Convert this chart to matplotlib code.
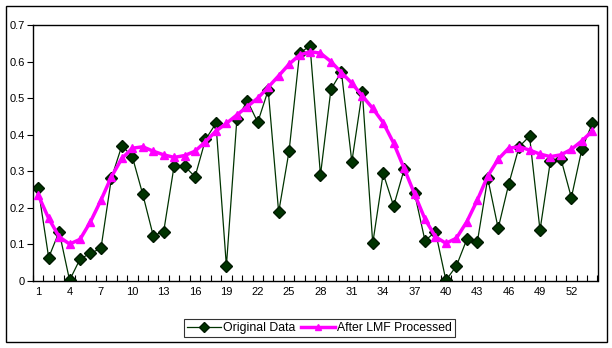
import matplotlib
matplotlib.use("Agg")
import matplotlib.pyplot as plt
from matplotlib.patches import Rectangle

x = list(range(1, 55))
original = [0.253, 0.064, 0.135, 0.002, 0.060, 0.076, 0.089, 0.281, 0.370, 0.340,
            0.237, 0.124, 0.135, 0.315, 0.314, 0.285, 0.387, 0.431, 0.041, 0.442,
            0.493, 0.434, 0.522, 0.188, 0.356, 0.623, 0.643, 0.290, 0.524, 0.572,
            0.326, 0.518, 0.103, 0.294, 0.205, 0.305, 0.240, 0.110, 0.135, 0.002,
            0.041, 0.114, 0.106, 0.281, 0.144, 0.264, 0.367, 0.396, 0.139, 0.329,
            0.334, 0.228, 0.360, 0.431]
lmf = [0.235, 0.171, 0.121, 0.101, 0.114, 0.162, 0.221, 0.285, 0.335, 0.363,
       0.367, 0.355, 0.345, 0.338, 0.343, 0.355, 0.381, 0.410, 0.431, 0.454,
       0.477, 0.500, 0.530, 0.561, 0.593, 0.618, 0.627, 0.623, 0.600, 0.570,
       0.541, 0.506, 0.472, 0.433, 0.377, 0.308, 0.238, 0.169, 0.121, 0.103,
       0.117, 0.162, 0.221, 0.287, 0.333, 0.363, 0.367, 0.358, 0.347, 0.340,
       0.345, 0.360, 0.383, 0.410]
xtick_labels = [str(v) for v in range(1, 55, 3)]
yticks = [0, 0.1, 0.2, 0.3, 0.4, 0.5, 0.6, 0.7]
ytick_labels = ["0", "0.1", "0.2", "0.3", "0.4", "0.5", "0.6", "0.7"]

plt.rcParams['font.family'] = ['Liberation Sans', 'DejaVu Sans']
fig = plt.figure(figsize=(6.12, 3.48), dpi=100)
fig.patches.append(Rectangle((6/612, 1-342/348), 601/612, 336/348, transform=fig.transFigure,
                             fill=False, edgecolor='black', linewidth=1.0))
ax = fig.add_axes([33/612, 1-281/348, 564.5/612, 256/348])

ax.plot(x, original, color='#003300', linewidth=0.9, marker='D', markersize=6.5,
        markerfacecolor='#003300', markeredgecolor='#001a00', label='Original Data', zorder=2)
ax.plot(x, lmf, color='#FF00FF', linewidth=2.5, marker='^', markersize=6,
        markerfacecolor='#FF00FF', markeredgecolor='#FF00FF', label='After LMF Processed', zorder=3)

ax.set_xlim(0.5, 54.5)
ax.set_ylim(0, 0.7)
ax.set_yticks(yticks)
ax.set_yticklabels(ytick_labels, fontsize=8)
ax.tick_params(axis='y', direction='out', length=4, width=0.8, pad=2)
ax.set_xticks([i + 0.5 for i in range(0, 55)], minor=False)
ax.set_xticklabels([])
ax.tick_params(axis='x', which='major', direction='in', length=4, width=0.8)
ax.set_xticks(list(range(1, 55, 3)), minor=True)
ax.set_xticklabels(xtick_labels, minor=True, fontsize=8)
ax.tick_params(axis='x', which='minor', length=0, pad=4)
for s in ax.spines.values():
    s.set_linewidth(1.0)
    s.set_color('black')

leg = fig.legend(loc='center', bbox_to_anchor=(319.5/612, 1-328/348), ncol=2, fontsize=8.8,
                 frameon=True, fancybox=False, edgecolor='black', borderpad=0.25,
                 handlelength=2.8, columnspacing=0.4, handletextpad=0.2, markerscale=0.75)
leg.get_frame().set_linewidth(0.8)

fig.savefig('out.png', dpi=100)
